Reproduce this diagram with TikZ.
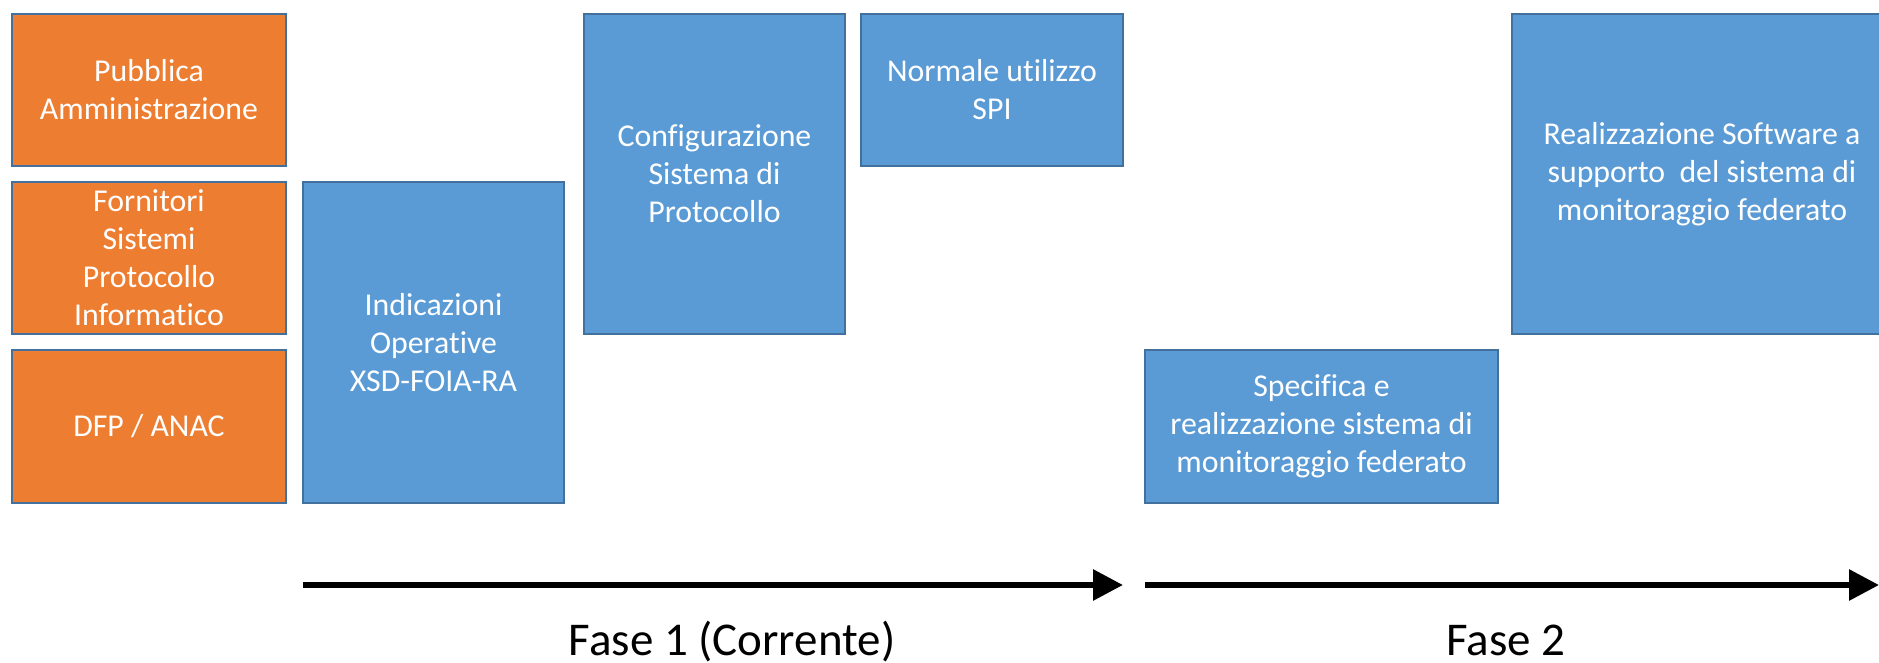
\documentclass[tikz,border=0pt]{standalone}
\usepackage{fontspec}
\setmainfont{Carlito}[Ligatures=NoCommon]
\usepackage{tikz}
\usetikzlibrary{arrows.meta}
\usetikzlibrary{calc}

\definecolor{actor_orange}{HTML}{ED7D31}
\definecolor{task_blue}{HTML}{5B9BD5}
\definecolor{edge_blue}{HTML}{41719C}

\begin{document}
\begin{tikzpicture}[x=0.5pt, y=-0.5pt,
        box_style/.style={rectangle,draw=edge_blue,line width=0.7pt,inner sep=0pt,align=center,text=white,
            font=\fontsize{15.9}{19}\selectfont},
        actor_style/.style={box_style,fill=actor_orange,minimum width=137pt,minimum height=76pt},
        task_style/.style={box_style,fill=task_blue},
        phase_style/.style={draw=black,line width=3pt,-{Triangle[length=15pt,width=15pt]}},
        phase_label/.style={anchor=base,font=\fontsize{23.5}{27}\selectfont}]

        \useasboundingbox (0,0) rectangle (1879,663);

        \node [actor_style](n1) at (149,90) {Pubblica\\Amministrazione};

        \node [actor_style](n2) at (149,258) {Fornitori\\Sistemi\\Protocollo\\Informatico};

        \node [actor_style,minimum height=76.5pt](n3) at (149,426.5) {DFP / ANAC};

        \node [task_style,minimum width=130.5pt,minimum height=160.5pt](n4) at (433.5,342.5) {Indicazioni\\Operative\\XSD-FOIA-RA};

        \node [task_style,minimum width=130.5pt,minimum height=160pt](n5) at (714.5,174) {Configurazione\\Sistema di\\Protocollo};

        \node [task_style,minimum width=131pt,minimum height=76pt](n6) at (992,90) {Normale utilizzo\\SPI};

        \node [task_style,minimum width=176.5pt,minimum height=76.5pt](n7) at (1321.5,426.5) {Specifica e\\realizzazione sistema di\\monitoraggio federato};

        \node [task_style,minimum width=190pt,minimum height=160pt](n8) at (1702,174) {Realizzazione Software a\\supporto\ \ del sistema di\\monitoraggio federato};

        \coordinate (p1_start) at (303,585);
        \coordinate (p1_end) at (1123,585);
        \coordinate (p2_start) at (1145,585);
        \coordinate (p2_end) at (1879,585);

        \draw [phase_style] (p1_start) -- (p1_end);

        \draw [phase_style] (p2_start) -- (p2_end);

        \node [phase_label](f1) at (732,655) {Fase 1 (Corrente)};

        \node [phase_label](f2) at (1506,655) {Fase 2};

        \end{tikzpicture}
\end{document}
